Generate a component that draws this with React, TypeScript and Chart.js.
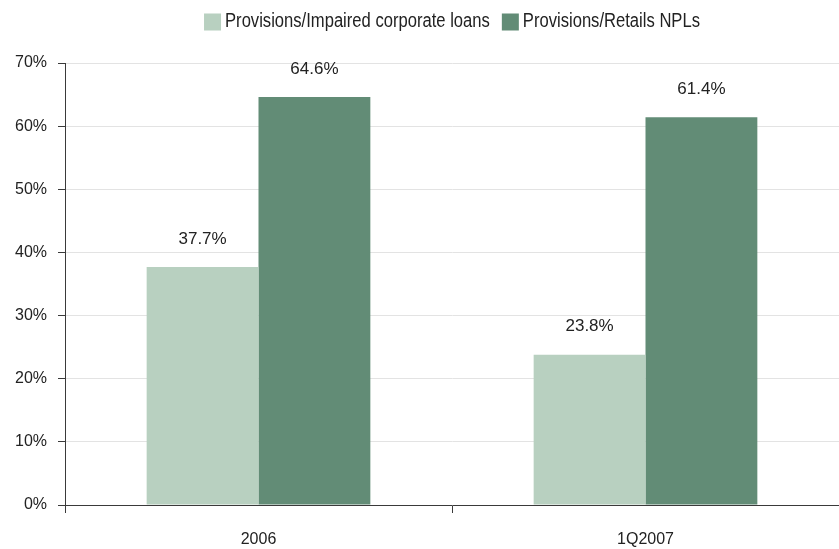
import React, { useEffect, useRef } from "react";
import { Chart, registerables } from "chart.js";

Chart.register(...registerables);

const categories = ["2006", "1Q2007"];
const seriesNames = ["Provisions/Impaired corporate loans", "Provisions/Retails NPLs"];
const corporateValues = [37.7, 23.8];
const retailValues = [64.6, 61.4];
const seriesColors = ["#b8d0c0", "#628c76"];
const yTicks = [0, 10, 20, 30, 40, 50, 60, 70];

const W = 839;
const H = 549;
const TEXT = "#222222";
const AXIS = "#3a3a3a";
const NUM_FONT = "'Liberation Sans', Arial, sans-serif";
const LEGEND_FONT = "'Liberation Sans', Arial, sans-serif";
// condensed look for the legend text
const LEGEND_SQUEEZE = 0.83;

// Value labels above each bar
const valueLabels = {
  id: "valueLabels",
  afterDatasetsDraw(chart: any) {
    const ctx = chart.ctx;
    ctx.save();
    ctx.font = `17px ${NUM_FONT}`;
    ctx.fillStyle = TEXT;
    ctx.textAlign = "center";
    ctx.textBaseline = "middle";
    chart.data.datasets.forEach((ds: any, i: number) => {
      const meta = chart.getDatasetMeta(i);
      meta.data.forEach((bar: any, j: number) => {
        const v = ds.data[j] as number;
        ctx.fillText(v.toFixed(1) + "%", bar.x, bar.y - 28);
      });
    });
    ctx.restore();
  },
};

// Legend row centred over the plot area
const topLegend = {
  id: "topLegend",
  afterDraw(chart: any) {
    const ctx = chart.ctx;
    const area = chart.chartArea;
    const box = 17;
    const gapText = 4;
    const gapItem = 12;
    ctx.save();
    ctx.font = `20px ${LEGEND_FONT}`;
    const items = chart.data.datasets.map((ds: any) => ({
      label: ds.label as string,
      color: ds.backgroundColor as string,
      w: ctx.measureText(ds.label).width * LEGEND_SQUEEZE,
    }));
    let total = 0;
    items.forEach((it: any, i: number) => {
      total += box + gapText + it.w + (i < items.length - 1 ? gapItem : 0);
    });
    let x = (area.left + area.right) / 2 - total / 2;
    const cy = 21;
    ctx.textBaseline = "middle";
    ctx.textAlign = "left";
    items.forEach((it: any) => {
      ctx.fillStyle = it.color;
      ctx.fillRect(x, cy - box / 2 + 1, box, box);
      x += box + gapText;
      ctx.save();
      ctx.translate(x, cy);
      ctx.scale(LEGEND_SQUEEZE, 1);
      ctx.fillStyle = TEXT;
      ctx.fillText(it.label, 0, 0);
      ctx.restore();
      x += it.w + gapItem;
    });
    ctx.restore();
  },
};

export default function App() {
  const ref = useRef<HTMLCanvasElement | null>(null);

  useEffect(() => {
    document.body.style.margin = "0";
    if (!ref.current) return;
    const chart = new Chart(ref.current, {
      type: "bar",
      data: {
        labels: categories,
        datasets: [
          {
            label: seriesNames[0],
            data: corporateValues,
            backgroundColor: seriesColors[0],
            borderWidth: 0,
          },
          {
            label: seriesNames[1],
            data: retailValues,
            backgroundColor: seriesColors[1],
            borderWidth: 0,
          },
        ],
      },
      options: {
        responsive: false,
        animation: false,
        devicePixelRatio: 1,
        layout: { padding: { top: 63, left: 0, right: 0, bottom: 0 } },
        datasets: {
          bar: { barPercentage: 1, categoryPercentage: 0.578 },
        },
        plugins: {
          legend: { display: false },
          tooltip: { enabled: false },
          title: { display: false },
        },
        scales: {
          x: {
            grid: {
              display: true,
              drawOnChartArea: false,
              drawTicks: true,
              tickLength: 8,
              tickColor: AXIS,
              offset: true,
            },
            border: { display: true, color: AXIS, width: 1 },
            ticks: {
              color: TEXT,
              font: { family: NUM_FONT, size: 16 },
              padding: 17,
              maxRotation: 0,
            },
            afterFit(scale: any) {
              scale.height = 44;
            },
          },
          y: {
            min: 0,
            max: 70,
            afterBuildTicks(scale: any) {
              scale.ticks = yTicks.map((v) => ({ value: v }));
            },
            grid: {
              color: "#e3e3e3",
              lineWidth: 1,
              drawTicks: true,
              tickLength: 7,
              tickColor: AXIS,
            },
            border: { display: true, color: AXIS, width: 1 },
            ticks: {
              color: TEXT,
              font: { family: NUM_FONT, size: 16 },
              padding: 11,
              callback: (v: any) => `${v}%`,
            },
            afterFit(scale: any) {
              scale.width = 65;
            },
          },
        },
      },
      plugins: [valueLabels, topLegend],
    });
    return () => chart.destroy();
  }, []);

  return (
    <div style={{ width: W, height: H }}>
      <canvas ref={ref} width={W} height={H} style={{ display: "block", width: W, height: H }} />
    </div>
  );
}
